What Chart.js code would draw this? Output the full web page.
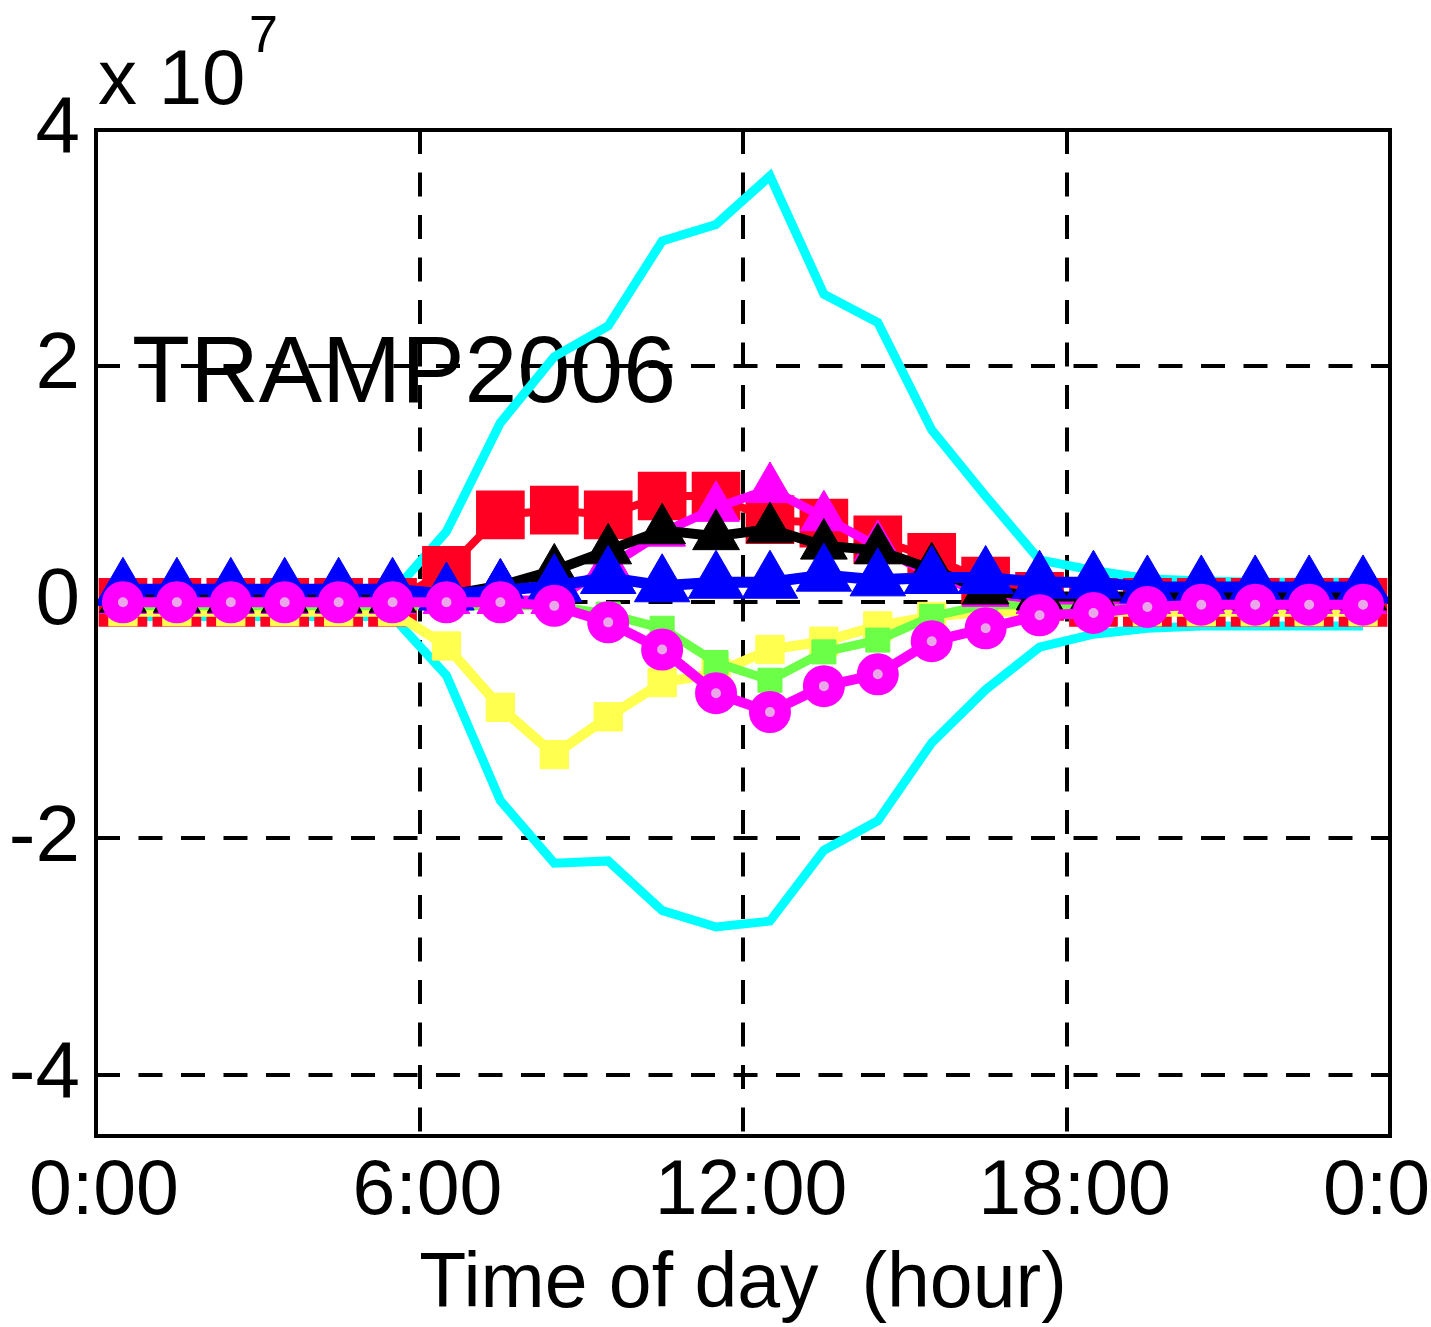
<!DOCTYPE html>
<html>
<head>
<meta charset="utf-8">
<script src="https://cdn.jsdelivr.net/npm/chart.js@4.4.1/dist/chart.umd.min.js"></script>
<style>
  html, body { margin: 0; padding: 0; background: #fff; }
</style>
</head>
<body>
<canvas id="myChart" width="1431" height="1327"></canvas>
<script>
"use strict";

// hourly values, units of 1e7
const hours = [0.5, 1.5, 2.5, 3.5, 4.5, 5.5, 6.5, 7.5, 8.5, 9.5, 10.5, 11.5,
  12.5, 13.5, 14.5, 15.5, 16.5, 17.5, 18.5, 19.5, 20.5, 21.5, 22.5, 23.5];

const cyanUpper = [0.05, 0.05, 0.05, 0.05, 0.05, 0.08, 0.6, 1.52, 2.08, 2.34, 3.06, 3.2,
  3.61, 2.61, 2.37, 1.46, 0.9, 0.36, 0.27, 0.2, 0.18, 0.17, 0.17, 0.17];
const cyanLower = [-0.12, -0.12, -0.12, -0.12, -0.12, -0.12, -0.62, -1.68, -2.21, -2.19, -2.61, -2.75,
  -2.7, -2.1, -1.85, -1.19, -0.74, -0.38, -0.27, -0.22, -0.2, -0.2, -0.2, -0.2];
const red = [0, 0, 0, 0, 0, 0, 0.27, 0.74, 0.78, 0.74, 0.9, 0.9,
  0.7, 0.67, 0.53, 0.38, 0.18, 0.05, 0, 0, 0, 0, 0, 0];
const yellow = [-0.08, -0.08, -0.08, -0.08, -0.08, -0.08, -0.37, -0.89, -1.29, -0.97, -0.68, -0.6,
  -0.4, -0.33, -0.2, -0.12, -0.08, -0.08, -0.08, -0.08, -0.08, -0.08, -0.08, -0.08];
const green = [-0.03, -0.03, -0.03, -0.03, -0.03, -0.03, -0.03, -0.03, -0.03, -0.1, -0.22, -0.51,
  -0.66, -0.42, -0.32, -0.12, -0.02, -0.02, -0.02, -0.02, -0.02, -0.02, -0.02, -0.02];
const magentaUpper = [0.02, 0.02, 0.02, 0.02, 0.02, 0.02, 0.02, 0.02, 0.02, 0.3, 0.59, 0.8,
  0.96, 0.72, 0.47, 0.23, 0.08, 0.02, 0.02, 0.02, 0.02, 0.02, 0.02, 0.02];
const black = [0.03, 0.03, 0.03, 0.03, 0.03, 0.03, 0.06, 0.14, 0.27, 0.44, 0.61, 0.56,
  0.62, 0.48, 0.44, 0.28, 0.1, 0.05, 0.05, 0.05, 0.05, 0.05, 0.05, 0.05];
const blue = [0.11, 0.11, 0.11, 0.11, 0.11, 0.11, 0.07, 0.1, 0.14, 0.21, 0.14, 0.17,
  0.17, 0.23, 0.19, 0.21, 0.21, 0.17, 0.17, 0.13, 0.13, 0.13, 0.13, 0.13];
const magentaLower = [0, 0, 0, 0, 0, 0, 0, 0, -0.03, -0.17, -0.4, -0.77,
  -0.93, -0.71, -0.61, -0.33, -0.22, -0.11, -0.09, -0.04, -0.02, -0.02, -0.02, -0.02];

const xTicks = [0, 6, 12, 18, 24];
const xTickLabels = ["0:00", "6:00", "12:00", "18:00", "0:00"];
const yTicks = [4, 2, 0, -2, -4];
const yTickLabels = ["4", "2", "0", "-2", "-4"];
const annotation = "TRAMP2006";

const FONT = '"Liberation Sans", Arial, sans-serif';
Chart.defaults.font.family = FONT;
Chart.defaults.color = "#000";

const points = (vals) => hours.map((h, i) => ({ x: h, y: vals[i] }));

function series(values, color, width, style, radius, fill, pointBorder) {
  return {
    data: points(values),
    borderColor: color,
    borderWidth: width,
    pointStyle: style || "circle",
    pointRadius: radius || 0,
    pointBackgroundColor: fill || color,
    pointBorderColor: color,
    pointBorderWidth: pointBorder || 1,
    tension: 0,
    fill: false,
  };
}

// first dataset ends up on top
const datasets = [
  series(magentaLower, "#ff00ff", 10, "circle", 13, "#e9a6e9", 16),
  series(blue, "#0000ff", 11, "triangle", 32),
  series(black, "#000000", 10, "triangle", 27),
  series(magentaUpper, "#ff00ff", 9, "triangle", 27),
  series(green, "#6cff48", 9, "rect", 17),
  series(yellow, "#ffff50", 10, "rect", 20),
  series(red, "#ff0022", 8, "rect", 33, null, 2),
  series(cyanLower, "#00ffff", 9),
  series(cyanUpper, "#00ffff", 9),
];

const decorations = {
  id: "decorations",
  beforeDatasetsDraw(chart) {
    const { ctx, scales } = chart;
    ctx.save();
    ctx.fillStyle = "#000";
    ctx.font = "95px " + FONT;
    ctx.textBaseline = "alphabetic";
    ctx.fillText(annotation, scales.x.getPixelForValue(0.67), scales.y.getPixelForValue(1.7));
    ctx.restore();
  },
  afterDraw(chart) {
    const { ctx, chartArea: a } = chart;
    ctx.save();
    ctx.strokeStyle = "#000";
    ctx.lineWidth = 4;
    ctx.strokeRect(a.left, a.top, a.right - a.left, a.bottom - a.top);
    // exponent above the y axis
    ctx.fillStyle = "#000";
    ctx.textBaseline = "alphabetic";
    ctx.font = "78px " + FONT;
    ctx.fillText("x 10", a.left + 2, a.top - 26);
    ctx.font = "52px " + FONT;
    ctx.fillText("7", a.left + 153, a.top - 78);
    ctx.restore();
  },
};

const ctx = document.getElementById("myChart").getContext("2d");
const myChart = new Chart(ctx, {
  type: "line",
  data: { datasets },
  plugins: [decorations],
  options: {
    responsive: false,
    animation: false,
    devicePixelRatio: 1,
    layout: { padding: { top: 130, right: 41, left: 0, bottom: 0 } },
    plugins: { legend: { display: false }, tooltip: { enabled: false } },
    scales: {
      x: {
        type: "linear",
        min: 0,
        max: 24,
        afterBuildTicks: (scale) => {
          scale.ticks = xTicks.map((v) => ({ value: v }));
        },
        afterFit: (scale) => {
          scale.height = 191;
          scale.paddingLeft = 0;
          scale.paddingRight = 0;
        },
        grid: { color: "#000", lineWidth: 4, drawTicks: false },
        border: { display: false, dash: [24, 18.5] },
        ticks: {
          autoSkip: false,
          maxRotation: 0,
          padding: 11,
          labelOffset: 8,
          font: { size: 77 },
          callback: (value, index) => xTickLabels[index],
        },
        title: {
          display: true,
          text: "Time of day  (hour)",
          font: { size: 77, lineHeight: 1 },
          padding: { top: 0, bottom: 3 },
        },
      },
      y: {
        type: "linear",
        min: -4.52,
        max: 4,
        afterBuildTicks: (scale) => {
          scale.ticks = yTicks.map((v) => ({ value: v }));
        },
        afterFit: (scale) => {
          scale.width = 96;
        },
        grid: { color: "#000", lineWidth: 4, drawTicks: false },
        border: { display: false, dash: [24, 18.5] },
        ticks: {
          padding: 16,
          font: { size: 80 },
          callback: (value, index) => yTickLabels[index],
        },
      },
    },
  },
});
</script>
</body>
</html>
